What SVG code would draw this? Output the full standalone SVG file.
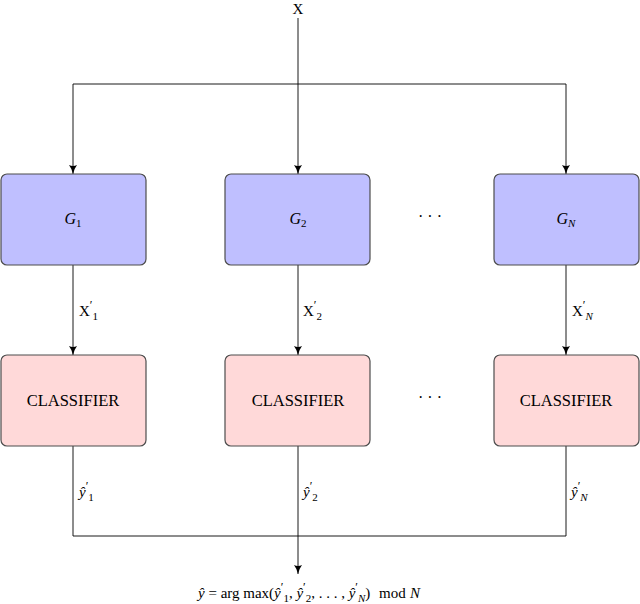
<svg xmlns="http://www.w3.org/2000/svg" width="640" height="604" viewBox="0 0 640 604">
<style>
.gen{fill:#bfbfff;stroke:#4d4d4d;stroke-width:1.2}
.cls{fill:#ffd9d9;stroke:#4d4d4d;stroke-width:1.2}
.wire{fill:none;stroke:#000;stroke-width:0.9}
text{font-family:"Liberation Serif","Times New Roman","DejaVu Serif",serif;fill:#000}
.lbl{font-size:15px}
.it{font-style:italic}
.sub{font-size:11px}
.node{font-size:16px;text-anchor:middle}
.cl{font-size:16.5px;text-anchor:middle}
</style>
<defs>
<marker id="arr" markerWidth="10" markerHeight="8" refX="9" refY="4" orient="auto" markerUnits="userSpaceOnUse">
<path d="M0,0 Q4,3 9,4 Q4,5 0,8 Q2,4 0,0 Z" fill="#000"/>
</marker>
</defs>
<g id="connectors">
<line class="wire" x1="298" y1="18" x2="298" y2="174" marker-end="url(#arr)"/>
<path class="wire" d="M298,84 H73 V174" marker-end="url(#arr)"/>
<path class="wire" d="M298,84 H566 V174" marker-end="url(#arr)"/>
<line class="wire" x1="73" y1="265" x2="73" y2="355" marker-end="url(#arr)"/>
<line class="wire" x1="298" y1="265" x2="298" y2="355" marker-end="url(#arr)"/>
<line class="wire" x1="566" y1="265" x2="566" y2="355" marker-end="url(#arr)"/>
<path class="wire" d="M73,446 V536 H298"/>
<path class="wire" d="M566,446 V536 H298"/>
<line class="wire" x1="298" y1="446" x2="298" y2="574" marker-end="url(#arr)"/>
<text class="lbl" x="79" y="316">X<tspan dy="-7" font-size="12">′</tspan><tspan class="sub" dy="11">1</tspan></text>
<text class="lbl" x="303" y="316">X<tspan dy="-7" font-size="12">′</tspan><tspan class="sub" dy="11">2</tspan></text>
<text class="lbl" x="572" y="316">X<tspan dy="-7" font-size="12">′</tspan><tspan class="sub it" dy="11">N</tspan></text>
<text class="lbl" x="79" y="497"><tspan class="it">ŷ</tspan><tspan dy="-7" font-size="12">′</tspan><tspan class="sub" dy="11">1</tspan></text>
<text class="lbl" x="303" y="497"><tspan class="it">ŷ</tspan><tspan dy="-7" font-size="12">′</tspan><tspan class="sub" dy="11">2</tspan></text>
<text class="lbl" x="571" y="497"><tspan class="it">ŷ</tspan><tspan dy="-7" font-size="12">′</tspan><tspan class="sub it" dy="11">N</tspan></text>
</g>
<g id="input"><text class="lbl" x="298" y="14" text-anchor="middle">X</text></g>
<g id="G1"><rect class="gen" x="1" y="174" width="145" height="91" rx="6"/><text class="node" x="73" y="224"><tspan class="it">G</tspan><tspan class="sub" dy="3">1</tspan></text></g>
<g id="G2"><rect class="gen" x="225" y="174" width="145" height="91" rx="6"/><text class="node" x="298" y="224"><tspan class="it">G</tspan><tspan class="sub" dy="3">2</tspan></text></g>
<g id="dots1"><text class="node" x="430" y="222">· · ·</text></g>
<g id="GN"><rect class="gen" x="494" y="174" width="145" height="91" rx="6"/><text class="node" x="566" y="224"><tspan class="it">G</tspan><tspan class="sub it" dy="3">N</tspan></text></g>
<g id="C1"><rect class="cls" x="1" y="355" width="145" height="91" rx="6"/><text class="cl" x="73" y="406">CLASSIFIER</text></g>
<g id="C2"><rect class="cls" x="225" y="355" width="145" height="91" rx="6"/><text class="cl" x="298" y="406">CLASSIFIER</text></g>
<g id="dots2"><text class="node" x="430" y="403">· · ·</text></g>
<g id="CN"><rect class="cls" x="494" y="355" width="145" height="91" rx="6"/><text class="cl" x="566" y="406">CLASSIFIER</text></g>
<g id="output">
<text class="lbl" x="198" y="598"><tspan class="it">ŷ</tspan> = arg max(<tspan class="it">ŷ</tspan><tspan dy="-7" font-size="12">′</tspan><tspan class="sub" dy="11">1</tspan><tspan dy="-4">, </tspan><tspan class="it">ŷ</tspan><tspan dy="-7" font-size="12">′</tspan><tspan class="sub" dy="11">2</tspan><tspan dy="-4">, . . . , </tspan><tspan class="it">ŷ</tspan><tspan dy="-7" font-size="12">′</tspan><tspan class="sub it" dy="11">N</tspan><tspan dy="-4">)</tspan><tspan x="379">mod</tspan><tspan class="it" x="410">N</tspan></text>
</g>
</svg>
